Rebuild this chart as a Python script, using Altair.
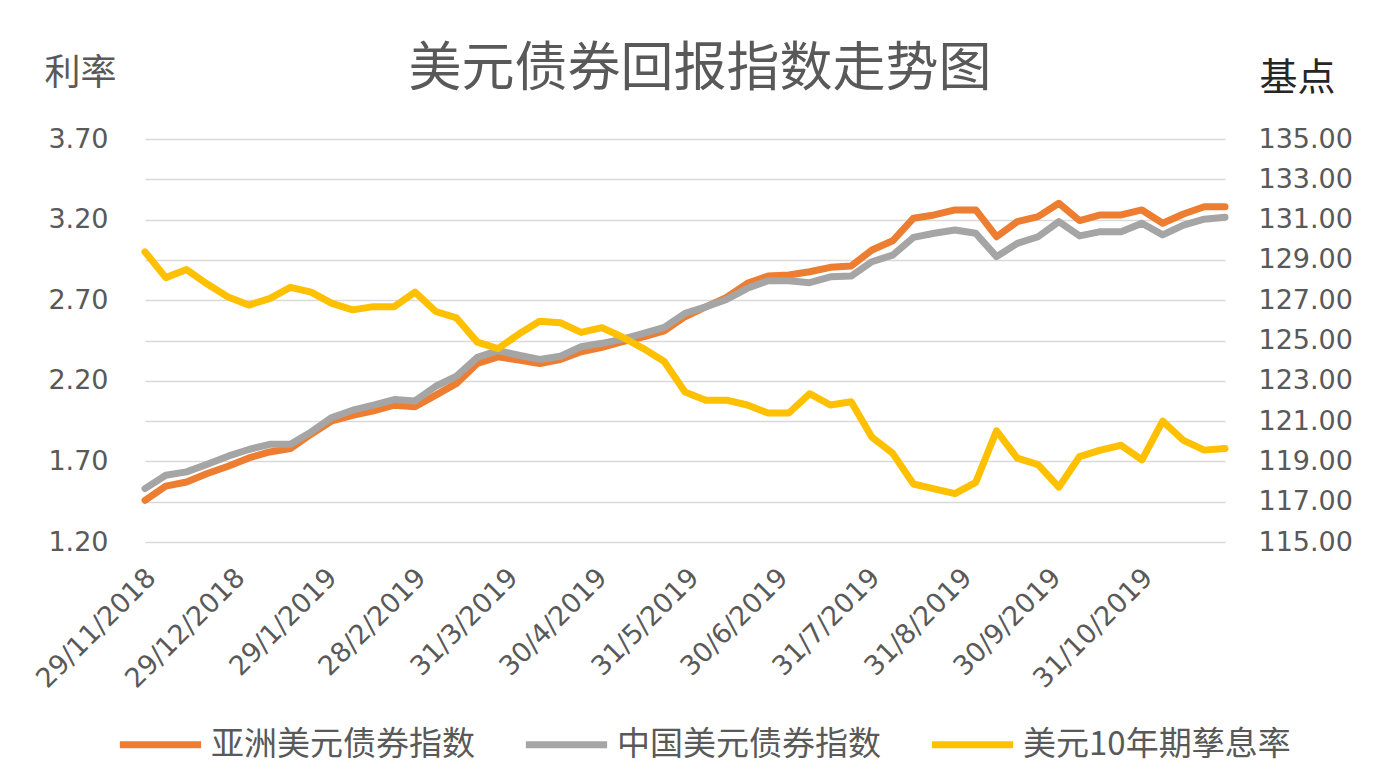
"""美元债券回报指数走势图: weekly bond index levels vs US 10y yield, dual axis."""

import altair as alt
import pandas as pd

# weekly observations, 29/11/2018 .. 28/11/2019
dates = [d.strftime("%Y-%m-%d") for d in pd.date_range("2018-11-29", periods=53, freq="7D")]

rate_10y = [
    3.00, 2.84, 2.89, 2.80, 2.72, 2.67, 2.71, 2.78, 2.75, 2.68,
    2.64, 2.66, 2.66, 2.75, 2.63, 2.59, 2.44, 2.40, 2.49, 2.57,
    2.56, 2.50, 2.53, 2.47, 2.40, 2.32, 2.13, 2.08, 2.08, 2.05,
    2.00, 2.00, 2.12, 2.05, 2.07, 1.85, 1.75, 1.56, 1.53, 1.50,
    1.57, 1.89, 1.72, 1.68, 1.54, 1.73, 1.77, 1.80, 1.71, 1.95,
    1.83, 1.77, 1.78,
]
asia_idx = [
    117.07, 117.77, 117.98, 118.40, 118.76, 119.17, 119.47, 119.64, 120.35, 121.01,
    121.29, 121.51, 121.79, 121.71, 122.29, 122.87, 123.86, 124.19, 124.03, 123.86,
    124.06, 124.44, 124.66, 124.94, 125.18, 125.48, 126.18, 126.67, 127.14, 127.84,
    128.20, 128.25, 128.41, 128.63, 128.70, 129.49, 129.95, 131.07, 131.23, 131.48,
    131.48, 130.15, 130.90, 131.15, 131.81, 130.95, 131.23, 131.23, 131.48, 130.82,
    131.28, 131.64, 131.64,
]
china_idx = [
    117.65, 118.31, 118.48, 118.86, 119.26, 119.59, 119.85, 119.85, 120.46, 121.18,
    121.54, 121.79, 122.07, 122.00, 122.73, 123.23, 124.16, 124.50, 124.27, 124.06,
    124.22, 124.69, 124.86, 125.07, 125.35, 125.65, 126.35, 126.67, 127.04, 127.59,
    127.97, 127.97, 127.87, 128.16, 128.20, 128.91, 129.24, 130.12, 130.32, 130.48,
    130.32, 129.16, 129.82, 130.15, 130.90, 130.19, 130.40, 130.40, 130.82, 130.24,
    130.73, 131.02, 131.12,
]

tick_dates = [
    "2018-11-29", "2018-12-29", "2019-01-29", "2019-02-28", "2019-03-31", "2019-04-30",
    "2019-05-31", "2019-06-30", "2019-07-31", "2019-08-31", "2019-09-30", "2019-10-31",
]
left_ticks = [1.20, 1.70, 2.20, 2.70, 3.20, 3.70]
right_ticks = [115, 117, 119, 121, 123, 125, 127, 129, 131, 133, 135]

series = ["亚洲美元债券指数", "中国美元债券指数", "美元10年期孳息率"]
colors = ["#ED7D31", "#A5A5A5", "#FFC000"]

CJK = "Noto Sans CJK SC"
NUM = "DejaVu Sans"
GREY = "#595959"


def ms(s):
    return int(pd.Timestamp(s, tz="UTC").value // 10**6)


idx_df = pd.concat([
    pd.DataFrame({"date": dates, "series": series[0], "index": asia_idx}),
    pd.DataFrame({"date": dates, "series": series[1], "index": china_idx}),
])
rate_df = pd.DataFrame({"date": dates, "series": series[2], "rate": rate_10y})

x = alt.X(
    "date:T",
    scale=alt.Scale(type="utc", domain=[ms(dates[0]), ms(dates[-1])]),
    axis=alt.Axis(
        values=[ms(d) for d in tick_dates],
        labelExpr="utcFormat(datum.value, '%-d/%-m/%Y')",
        labelAngle=-45,
        labelFont=NUM,
        labelFontSize=27,
        labelColor=GREY,
        labelPadding=22,
        labelOffset=-3,
        labelOverlap=False,
        labelFlush=False,
        domain=False,
        ticks=False,
        grid=False,
        title=None,
    ),
)

color = alt.Color(
    "series:N",
    scale=alt.Scale(domain=series, range=colors),
    legend=alt.Legend(
        title=None,
        orient="none",
        direction="horizontal",
        legendX=-29,
        legendY=561,
        symbolType="stroke",
        symbolSize=6600,
        symbolStrokeWidth=7,
        labelFont=CJK,
        labelFontSize=33,
        labelColor=GREY,
        labelLimit=400,
        labelOffset=6,
        columnPadding=36,
        padding=0,
    ),
)

line_style = dict(strokeWidth=7, strokeJoin="round", strokeCap="round")

index_lines = (
    alt.Chart(idx_df)
    .mark_line(**line_style)
    .encode(
        x=x,
        y=alt.Y(
            "index:Q",
            scale=alt.Scale(domain=[115, 135], nice=False, zero=False),
            axis=alt.Axis(
                orient="right",
                values=right_ticks,
                format=".2f",
                labelFont=NUM,
                labelFontSize=27,
                labelColor=GREY,
                labelPadding=33,
                domain=False,
                ticks=False,
                grid=True,
                gridColor="#D9D9D9",
                gridWidth=1.5,
                title="基点",
                titleFont=CJK,
                titleFontSize=38,
                titleFontWeight="normal",
                titleColor="#262626",
                titleAngle=0,
                titleAlign="center",
                titleBaseline="middle",
                titleX=72,
                titleY=-61,
            ),
        ),
        color=color,
        detail="series:N",
    )
)

rate_line = (
    alt.Chart(rate_df)
    .mark_line(**line_style)
    .encode(
        x=x,
        y=alt.Y(
            "rate:Q",
            scale=alt.Scale(domain=[1.2, 3.7], nice=False, zero=False),
            axis=alt.Axis(
                orient="left",
                values=left_ticks,
                format=".2f",
                labelFont=NUM,
                labelFontSize=27,
                labelColor=GREY,
                labelPadding=37,
                domain=False,
                ticks=False,
                grid=False,
                title="利率",
                titleFont=CJK,
                titleFontSize=36,
                titleFontWeight="normal",
                titleColor=GREY,
                titleAngle=0,
                titleAlign="center",
                titleBaseline="middle",
                titleX=-65,
                titleY=-66,
            ),
        ),
        color=color,
    )
)

chart = (
    alt.layer(index_lines, rate_line)
    .resolve_scale(y="independent")
    .properties(
        width=1080,
        height=403,
        autosize=alt.AutoSizeParams(type="none"),
        padding={"left": 137, "top": 131, "right": 150, "bottom": 232},
        title=alt.TitleParams(
            "美元债券回报指数走势图",
            font=CJK,
            fontSize=53,
            fontWeight="normal",
            color=GREY,
            anchor="middle",
            frame="group",
            dx=15,
            offset=-42,
        ),
    )
    .configure_view(stroke=None)
)

chart.save("out.html", embed_options={"renderer": "svg", "actions": False})
